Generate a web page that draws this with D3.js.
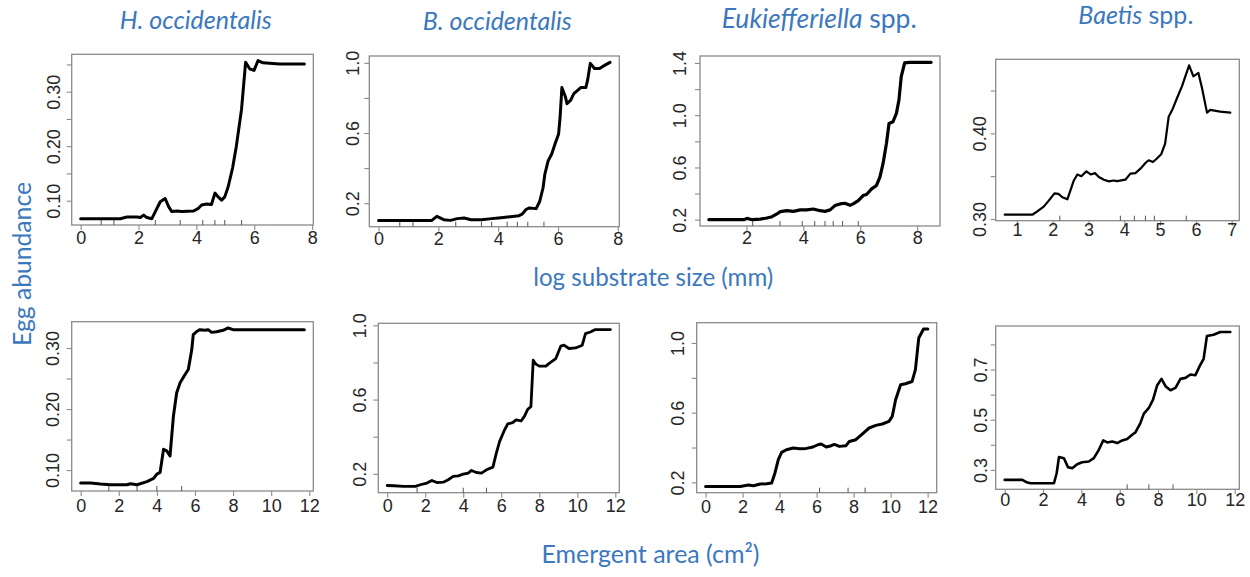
<!DOCTYPE html>
<html><head><meta charset="utf-8">
<script src="https://cdn.jsdelivr.net/npm/d3@7/dist/d3.min.js"></script>
<style>
html,body{margin:0;padding:0;background:#fff;}
svg{display:block;}
</style></head>
<body><svg id="chart" width="1250" height="577"></svg>
<script>
// ---------------- DATA ----------------
// Top row: log substrate size (mm)
const hoccSubX = [0,1.37,1.60,1.95,2.06,2.18,2.29,2.46,2.58,2.75,2.92,3.04,3.15,3.32,3.49,3.90,4.07,4.18,4.35,4.52,4.64,4.75,4.87,4.98,5.10,5.25,5.38,5.56,5.70,5.84,5.99,6.13,6.30,6.87,7.73];
const hoccSubY = [0.067,0.067,0.070,0.070,0.069,0.0735,0.069,0.067,0.080,0.098,0.104,0.089,0.080,0.081,0.080,0.081,0.086,0.092,0.094,0.093,0.114,0.107,0.101,0.107,0.126,0.160,0.200,0.268,0.354,0.342,0.339,0.357,0.353,0.351,0.351];
const hoccSubRug = [0.71,1.15,2.58,3.44,4.22,4.64,4.98,5.56];

const boccSubX = [0,1.78,1.95,2.18,2.41,2.63,2.86,3.09,3.44,3.78,4.01,4.24,4.70,4.81,4.93,5.04,5.27,5.39,5.50,5.56,5.67,5.79,5.90,6.02,6.07,6.13,6.25,6.30,6.42,6.53,6.76,6.93,6.99,7.08,7.22,7.39,7.57,7.74];
const boccSubY = [0.102,0.102,0.125,0.106,0.102,0.112,0.116,0.106,0.106,0.112,0.116,0.120,0.129,0.139,0.164,0.173,0.169,0.211,0.288,0.365,0.441,0.480,0.537,0.595,0.690,0.859,0.805,0.767,0.786,0.825,0.859,0.859,0.901,0.997,0.968,0.968,0.987,1.003];
const boccSubRug = [0.71,1.15,2.58,3.44,3.78,4.30,4.64,4.99,5.53];

const eukSubX = [0.68,1.91,2.02,2.20,2.49,2.72,2.90,3.07,3.19,3.42,3.65,3.89,4.12,4.35,4.59,4.76,4.94,5.11,5.29,5.46,5.64,5.75,5.93,6.10,6.22,6.40,6.57,6.69,6.80,6.92,7.01,7.15,7.27,7.36,7.44,7.56,7.73,8.49];
const eukSubY = [0.200,0.200,0.210,0.200,0.205,0.213,0.223,0.244,0.262,0.269,0.264,0.275,0.275,0.282,0.269,0.264,0.275,0.308,0.321,0.326,0.310,0.321,0.346,0.385,0.393,0.436,0.462,0.526,0.629,0.783,0.937,0.950,1.014,1.117,1.296,1.400,1.405,1.405];
const eukSubRug = [2.22,3.18,3.96,4.40,4.76,5.05,5.38,5.93];

const baeSubX = [0.66,1.43,1.57,1.75,1.89,2.05,2.16,2.27,2.41,2.59,2.69,2.80,2.94,3.06,3.18,3.29,3.43,3.57,3.70,3.80,4.03,4.17,4.31,4.45,4.59,4.68,4.80,4.91,5.03,5.14,5.24,5.36,5.47,5.61,5.70,5.81,5.93,6.07,6.17,6.31,6.40,6.68,6.96];
const baeSubY = [0.305,0.305,0.309,0.3145,0.3215,0.330,0.3294,0.3254,0.323,0.345,0.352,0.350,0.3556,0.352,0.3536,0.349,0.3459,0.3439,0.345,0.3443,0.3459,0.353,0.3536,0.3588,0.3654,0.3686,0.3666,0.3706,0.3756,0.388,0.4195,0.4294,0.441,0.4548,0.4659,0.4795,0.4666,0.4706,0.453,0.4242,0.4274,0.4254,0.4242];
const baeSubRug = [2.20,3.89,4.28,4.59,4.84,5.73];

// Bottom row: emergent area (cm2)
const hoccEmX = [0,0.52,1.04,1.56,2.43,2.61,2.96,3.48,3.83,4.00,4.17,4.35,4.52,4.69,4.87,5.04,5.22,5.48,5.65,5.83,5.91,6.09,6.26,6.52,6.69,6.87,7.13,7.48,7.74,8.00,8.87,11.74];
const hoccEmY = [0.0788,0.0788,0.0772,0.076,0.076,0.0777,0.076,0.081,0.0864,0.0935,0.0962,0.134,0.1315,0.123,0.1886,0.2268,0.243,0.2566,0.2648,0.297,0.322,0.327,0.330,0.329,0.330,0.3256,0.3267,0.329,0.3328,0.330,0.330,0.330];
const hoccEmRug = [1.48,2.96,4.00,5.30];

const boccEmX = [0,0.35,0.87,1.48,1.74,2.09,2.35,2.61,2.95,3.21,3.47,3.74,4.00,4.26,4.43,4.69,4.96,5.22,5.56,5.74,5.91,6.17,6.34,6.60,6.78,7.04,7.21,7.39,7.56,7.68,7.82,8.00,8.35,8.52,8.87,9.13,9.30,9.56,9.91,10.26,10.43,10.69,10.95,11.74];
const boccEmY = [0.137,0.1356,0.132,0.132,0.141,0.150,0.164,0.153,0.155,0.168,0.186,0.189,0.198,0.204,0.218,0.207,0.204,0.2215,0.236,0.311,0.3735,0.436,0.4685,0.4755,0.490,0.4846,0.508,0.5475,0.5615,0.812,0.7907,0.780,0.780,0.7945,0.821,0.8875,0.8928,0.875,0.878,0.8928,0.9556,0.964,0.977,0.977];
const boccEmRug = [1.57,4.00,5.22];

const eukEmX = [0,0.80,1.87,2.32,2.59,2.95,3.30,3.57,3.75,3.93,4.11,4.37,4.73,5.09,5.45,5.80,6.07,6.25,6.52,6.79,6.96,7.23,7.59,7.77,8.12,8.48,8.84,9.20,9.55,9.91,10.09,10.27,10.54,10.80,11.16,11.34,11.52,11.78,12.01];
const eukEmY = [0.177,0.177,0.177,0.185,0.181,0.191,0.1925,0.1965,0.254,0.330,0.372,0.3876,0.397,0.393,0.395,0.403,0.416,0.420,0.403,0.4106,0.418,0.4066,0.4106,0.435,0.445,0.479,0.512,0.527,0.535,0.550,0.579,0.6745,0.7605,0.766,0.779,0.8466,1.028,1.08,1.08];
const eukEmRug = [6.16,7.70,8.62];

const baeEmX = [0,0.92,1.18,1.35,2.57,2.71,2.83,3.09,3.30,3.52,3.78,4.04,4.39,4.65,4.91,5.14,5.35,5.61,5.87,6.13,6.39,6.65,6.82,7.08,7.26,7.52,7.74,7.95,8.18,8.39,8.65,8.91,9.17,9.43,9.69,9.95,10.17,10.38,10.55,10.90,11.25,11.77];
const baeEmY = [0.26,0.26,0.2493,0.2467,0.2467,0.2867,0.351,0.3467,0.311,0.3067,0.3227,0.3307,0.3333,0.3467,0.38,0.4173,0.4093,0.4133,0.4067,0.4173,0.4227,0.44,0.4493,0.4867,0.524,0.5467,0.58,0.636,0.6627,0.6333,0.6173,0.6267,0.6627,0.6667,0.68,0.6773,0.7133,0.7427,0.8333,0.8387,0.8493,0.8493];
const baeEmRug = [6.39,7.52,8.78];

// Tick values
const xTicksSub8 = [0,2,4,6,8];
const xTicksEuk = [2,4,6,8];
const xTicksBae = [1,2,3,4,5,6,7];
const xTicksEm = [0,2,4,6,8,10,12];
const yTicksHoccSub = [0.10,0.15,0.20,0.25,0.30,0.35], yLabHoccSub = [0.10,0.20,0.30];
const yTicksBoccSub = [0.2,0.4,0.6,0.8,1.0], yLabBoccSub = [0.2,0.6,1.0];
const yTicksEukSub = [0.2,0.4,0.6,0.8,1.0,1.2,1.4], yLabEukSub = [0.2,0.6,1.0,1.4];
const yTicksBaeSub = [0.30,0.35,0.40,0.45], yLabBaeSub = [0.30,0.40];
const yTicksHoccEm = [0.10,0.15,0.20,0.25,0.30], yLabHoccEm = [0.10,0.20,0.30];
const yTicksBoccEm = [0.2,0.4,0.6,0.8,1.0], yLabBoccEm = [0.2,0.6,1.0];
const yTicksEukEm = [0.2,0.4,0.6,0.8,1.0], yLabEukEm = [0.2,0.6,1.0];
const yTicksBaeEm = [0.3,0.4,0.5,0.6,0.7,0.8], yLabBaeEm = [0.3,0.5,0.7];

// Titles (italic part, plain part)
const titles = [["H. occidentalis",""],["B. occidentalis",""],["Eukiefferiella"," spp."],["Baetis"," spp."]];
const xLabelTop = "log substrate size (mm)";
const xLabelBottom = "Emergent area (cm²)";
const yLabel = "Egg abundance";

// ---------------- LAYOUT ----------------
const panels = [
  {xs:hoccSubX, ys:hoccSubY, rug:hoccSubRug, xt:xTicksSub8, yt:yTicksHoccSub, yl:yLabHoccSub, yf:".2f", box:[71.7,313.3,54.3,225], xo:12.5, yo:18, lw:3},
  {xs:boccSubX, ys:boccSubY, rug:boccSubRug, xt:xTicksSub8, yt:yTicksBoccSub, yl:yLabBoccSub, yf:".1f", box:[369.3,619.3,56,226.7], xo:11.7, yo:16.5, lw:3},
  {xs:eukSubX, ys:eukSubY, rug:eukSubRug, xt:xTicksEuk, yt:yTicksEukSub, yl:yLabEukSub, yf:".1f", box:[700,940,56,226], xo:11.5, yo:20.5, lw:3.2},
  {xs:baeSubX, ys:baeSubY, rug:baeSubRug, xt:xTicksBae, yt:yTicksBaeSub, yl:yLabBaeSub, yf:".2f", box:[995.7,1239.3,59.3,220.7], xo:9.5, yo:16, lw:2.2},
  {xs:hoccEmX, ys:hoccEmY, rug:hoccEmRug, xt:xTicksEm, yt:yTicksHoccEm, yl:yLabHoccEm, yf:".2f", box:[71.7,313.3,321.7,491], xo:14.8, yo:18.4, lw:3},
  {xs:boccEmX, ys:boccEmY, rug:boccEmRug, xt:xTicksEm, yt:yTicksBoccEm, yl:yLabBoccEm, yf:".1f", box:[378.3,619.3,323.3,492.7], xo:13.3, yo:18.3, lw:2.8},
  {xs:eukEmX, ys:eukEmY, rug:eukEmRug, xt:xTicksEm, yt:yTicksEukEm, yl:yLabEukEm, yf:".1f", box:[696.7,936.7,322.7,492.7], xo:13.8, yo:18.4, lw:3},
  {xs:baeEmX, ys:baeEmY, rug:baeEmRug, xt:xTicksEm, yt:yTicksBaeEm, yl:yLabBaeEm, yf:".1f", box:[995.7,1239.3,326,489.3], xo:10.2, yo:14.5, lw:2.6}
];
const titlePos = [[195.8,29.3,152],[497.2,30,149],[819.2,28.3,195],[1135.8,24,115]];

const BLUE = "#3b78bd";
const AXIS = "#8a8a8a";
const TXT = "#262626";
const TICKFONT = "'Liberation Sans', Arial, sans-serif";
const LABFONT = "Lato, 'Open Sans', sans-serif";

const svg = d3.select("#chart");

function padExtent(a){
  const [lo,hi] = d3.extent(a); const p = (hi-lo)*0.04; return [lo-p, hi+p];
}

panels.forEach(p => {
  const [l,r,t,b] = p.box;
  const x = d3.scaleLinear().domain(padExtent(p.xs)).range([l,r]);
  const y = d3.scaleLinear().domain(padExtent(p.ys)).range([b,t]);
  const g = svg.append("g");

  // x axis
  const xa = g.append("g").attr("transform",`translate(0,${b})`)
    .call(d3.axisBottom(x).tickValues(p.xt).tickSize(5).tickPadding(p.xo-5-6.5).tickFormat(d3.format("d")));
  xa.select(".domain").remove();
  xa.selectAll("line").attr("stroke",AXIS).attr("stroke-width",1.1);
  xa.selectAll("text").attr("fill",TXT).style("font-family",TICKFONT).style("font-size","18px");

  // y axis
  const lab = new Set(p.yl.map(v=>v.toFixed(3)));
  const fmt = d3.format(p.yf);
  const ya = g.append("g").attr("transform",`translate(${l},0)`)
    .call(d3.axisLeft(y).tickValues(p.yt).tickSize(5).tickFormat(v => lab.has(v.toFixed(3)) ? fmt(v) : ""));
  ya.select(".domain").remove();
  ya.selectAll("line").attr("stroke",AXIS).attr("stroke-width",1.1);
  ya.selectAll("text").attr("x",null).attr("dy",null)
    .attr("transform",`translate(${-p.yo},0) rotate(-90)`)
    .attr("text-anchor","middle").attr("dominant-baseline","central")
    .attr("fill",TXT).style("font-family",TICKFONT).style("font-size","18px");

  // box
  g.append("rect").attr("x",l).attr("y",t).attr("width",r-l).attr("height",b-t)
    .attr("fill","none").attr("stroke",AXIS).attr("stroke-width",1.3);

  // rug
  g.selectAll(".rug").data(p.rug).join("line")
    .attr("x1",d=>x(d)).attr("x2",d=>x(d)).attr("y1",b).attr("y2",b-5)
    .attr("stroke","#555").attr("stroke-width",1);

  // line
  const pts = p.xs.map((v,i)=>[v,p.ys[i]]);
  g.append("path").datum(pts)
    .attr("d", d3.line().x(d=>x(d[0])).y(d=>y(d[1])))
    .attr("fill","none").attr("stroke","#000").attr("stroke-width",p.lw)
    .attr("stroke-linejoin","round").attr("stroke-linecap","round");
});

function fit(sel, target){
  const w = sel.node().getComputedTextLength();
  const fs = parseFloat(sel.style("font-size"));
  sel.style("font-size", (fs*target/w).toFixed(2)+"px");
}

titles.forEach((tt,i)=>{
  const [cx,by,w] = titlePos[i];
  const t = svg.append("text").attr("x",cx).attr("y",by).attr("text-anchor","middle")
    .attr("fill",BLUE).style("font-family",LABFONT).style("font-size","20px");
  t.append("tspan").style("font-style","italic").text(tt[0]);
  if (tt[1]) t.append("tspan").text(tt[1]);
  fit(t,w);
});

const xl1 = svg.append("text").attr("x",653.3).attr("y",286).attr("text-anchor","middle")
  .attr("fill",BLUE).style("font-family",LABFONT).style("font-size","20px").text(xLabelTop);
fit(xl1,240);
const xl2 = svg.append("text").attr("x",650.5).attr("y",563).attr("text-anchor","middle")
  .attr("fill",BLUE).style("font-family",LABFONT).style("font-size","20px").text(xLabelBottom);
fit(xl2,218);
const yl = svg.append("text").attr("transform","translate(21,264) rotate(-90)").attr("text-anchor","middle")
  .attr("dominant-baseline","central")
  .attr("fill",BLUE).style("font-family",LABFONT).style("font-size","20px").text(yLabel);
fit(yl,164);
</script>
</body></html>
